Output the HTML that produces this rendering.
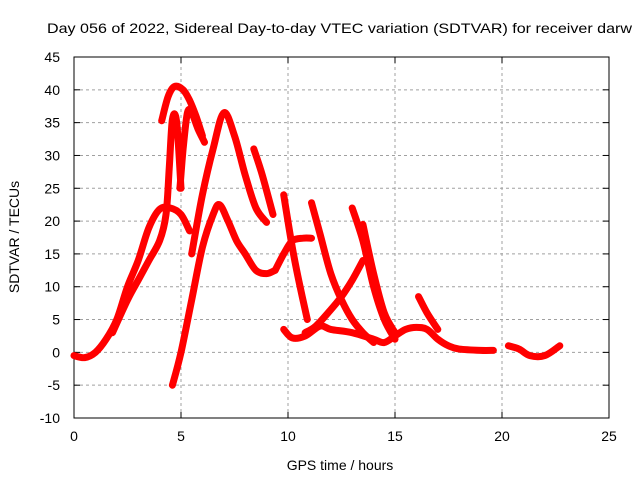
<!DOCTYPE html>
<html><head><meta charset="utf-8"><style>
body{margin:0;background:#fff;}
svg{display:block;font-family:"Liberation Sans",sans-serif;}
</style></head><body>
<svg id="c" width="640" height="480">
<text x="47" y="33" font-size="14" textLength="585" lengthAdjust="spacingAndGlyphs">Day 056 of 2022, Sidereal Day-to-day VTEC variation (SDTVAR) for receiver darw</text>
<g id="grid"></g><g id="axes"></g><g id="series"></g>
<text x="340" y="470" font-size="14" text-anchor="middle">GPS time / hours</text>
<text transform="translate(19,237) rotate(-90)" font-size="14" text-anchor="middle">SDTVAR / TECUs</text>
</svg>
<script>
const xTicks=[0,5,10,15,20,25];
const yTicks=[-10,-5,0,5,10,15,20,25,30,35,40,45];
const traceHours=[
[0,0.5,1,1.5,2,2.5,3,3.5,4,4.5,5,5.4],
[1.8,2.5,3,3.5,4,4.3,4.45,4.6,4.8,5.0],
[4.1,4.4,4.7,5.1,5.4,5.7,6.0],
[4.95,5.1,5.3,5.5,5.8,6.1],
[4.6,5,5.5,6,6.5,6.8,7.2,7.6,8,8.5,9,9.4],
[5.5,6,6.5,7,7.5,8,8.5,9.0],
[8.4,8.8,9.3],
[9.4,9.8,10.2,10.7,11.1],
[9.8,10.2,10.5,10.9],
[11.1,11.5,12,12.5,13,13.5,14],
[13,13.5,14,14.5,15],
[13.5,14,14.5,15],
[10.8,11.3,12,12.5,13,13.5],
[9.8,10.2,10.8,11.5,12,13,14,14.5,15,15.5,16,16.5,17,17.5,18,19,19.6],
[16.1,16.5,17],
[20.3,20.8,21.3,22,22.7]
];
const traceValues=[
[-0.5,-0.8,0,2,5,10,14,19,21.8,22,21,18.5],
[3,8,11,14,17,21,28,35.5,35,25],
[35.3,39,40.5,40,38.4,36,33],
[25,31,36.5,36.5,34,32],
[-5,0,8,16,21,22.5,20,17,15,12.5,12,12.5],
[15,24,31,36.5,33,27,22,19.8],
[31,27,21],
[12.5,15,17,17.4,17.4],
[24,16,11,5],
[22.8,18,12,8,5,3,1.5],
[22,17,10,5,2],
[19.5,12,6,3],
[3,4,6.5,8.5,11,14],
[3.5,2.2,2.5,4,3.5,3,2,1.5,2.5,3.5,3.8,3.5,2,1,0.5,0.3,0.3],
[8.5,6,3.5],
[1,0.5,-0.5,-0.5,1]
];
const NS="http://www.w3.org/2000/svg";
const X0=74,X1=609,Y0=418,Y1=57;
function sx(h){return X0+(h-0)/(25-0)*(X1-X0);}
function sy(v){return Y0-(v+10)/(55)*(Y0-Y1);}
function mk(tag,attrs,parent){const e=document.createElementNS(NS,tag);for(const k in attrs)e.setAttribute(k,attrs[k]);parent.appendChild(e);return e;}
function smoothPath(p){
 let d='M'+p[0][0].toFixed(1)+','+p[0][1].toFixed(1);
 for(let i=0;i<p.length-1;i++){
  const a=p[Math.max(0,i-1)],b=p[i],c=p[i+1],e=p[Math.min(p.length-1,i+2)];
  const c1=[b[0]+(c[0]-a[0])/6,b[1]+(c[1]-a[1])/6],c2=[c[0]-(e[0]-b[0])/6,c[1]-(e[1]-b[1])/6];
  d+=' C'+c1[0].toFixed(1)+','+c1[1].toFixed(1)+' '+c2[0].toFixed(1)+','+c2[1].toFixed(1)+' '+c[0].toFixed(1)+','+c[1].toFixed(1);
 }
 return d;
}
const grid=document.getElementById('grid'),axes=document.getElementById('axes'),ser=document.getElementById('series');
xTicks.forEach(t=>{
 const x=sx(t);
 if(t>0&&t<25){const g=mk('line',{x1:x,x2:x,y1:Y0,y2:Y1,stroke:'#a0a0a0','stroke-dasharray':'3,3'},grid);
 
 }
 mk('line',{x1:x,x2:x,y1:Y0,y2:Y0-6,stroke:'#000'},axes);
 mk('line',{x1:x,x2:x,y1:Y1,y2:Y1+6,stroke:'#000'},axes);
 const tx=mk('text',{x:x,y:Y0+23,'font-size':14,'text-anchor':'middle'},axes);tx.textContent=t;
 
 
});
yTicks.forEach(t=>{
 const y=sy(t);
 if(t>-10&&t<45){const g=mk('line',{x1:X0,x2:X1,y1:y,y2:y,stroke:'#a0a0a0','stroke-dasharray':'3,3'},grid);
 
 }
 mk('line',{x1:X0,x2:X0+6,y1:y,y2:y,stroke:'#000'},axes);
 mk('line',{x1:X1,x2:X1-6,y1:y,y2:y,stroke:'#000'},axes);
 const tx=mk('text',{x:X0-14,y:y+5,'font-size':14,'text-anchor':'end'},axes);tx.textContent=t;
 
 
});
const fr=mk('rect',{x:X0,y:Y1,width:X1-X0,height:Y0-Y1,fill:'none',stroke:'#000'},axes);


traceHours.forEach((hs,i)=>{
 const vs=traceValues[i];
 const pts=hs.map((h,j)=>[sx(h),sy(vs[j])]);
 const p=mk('path',{d:smoothPath(pts),fill:'none',stroke:'#ff0000','stroke-width':7,'stroke-linejoin':'round','stroke-linecap':'round'},ser);
 
 
});
</script>
</body></html>
